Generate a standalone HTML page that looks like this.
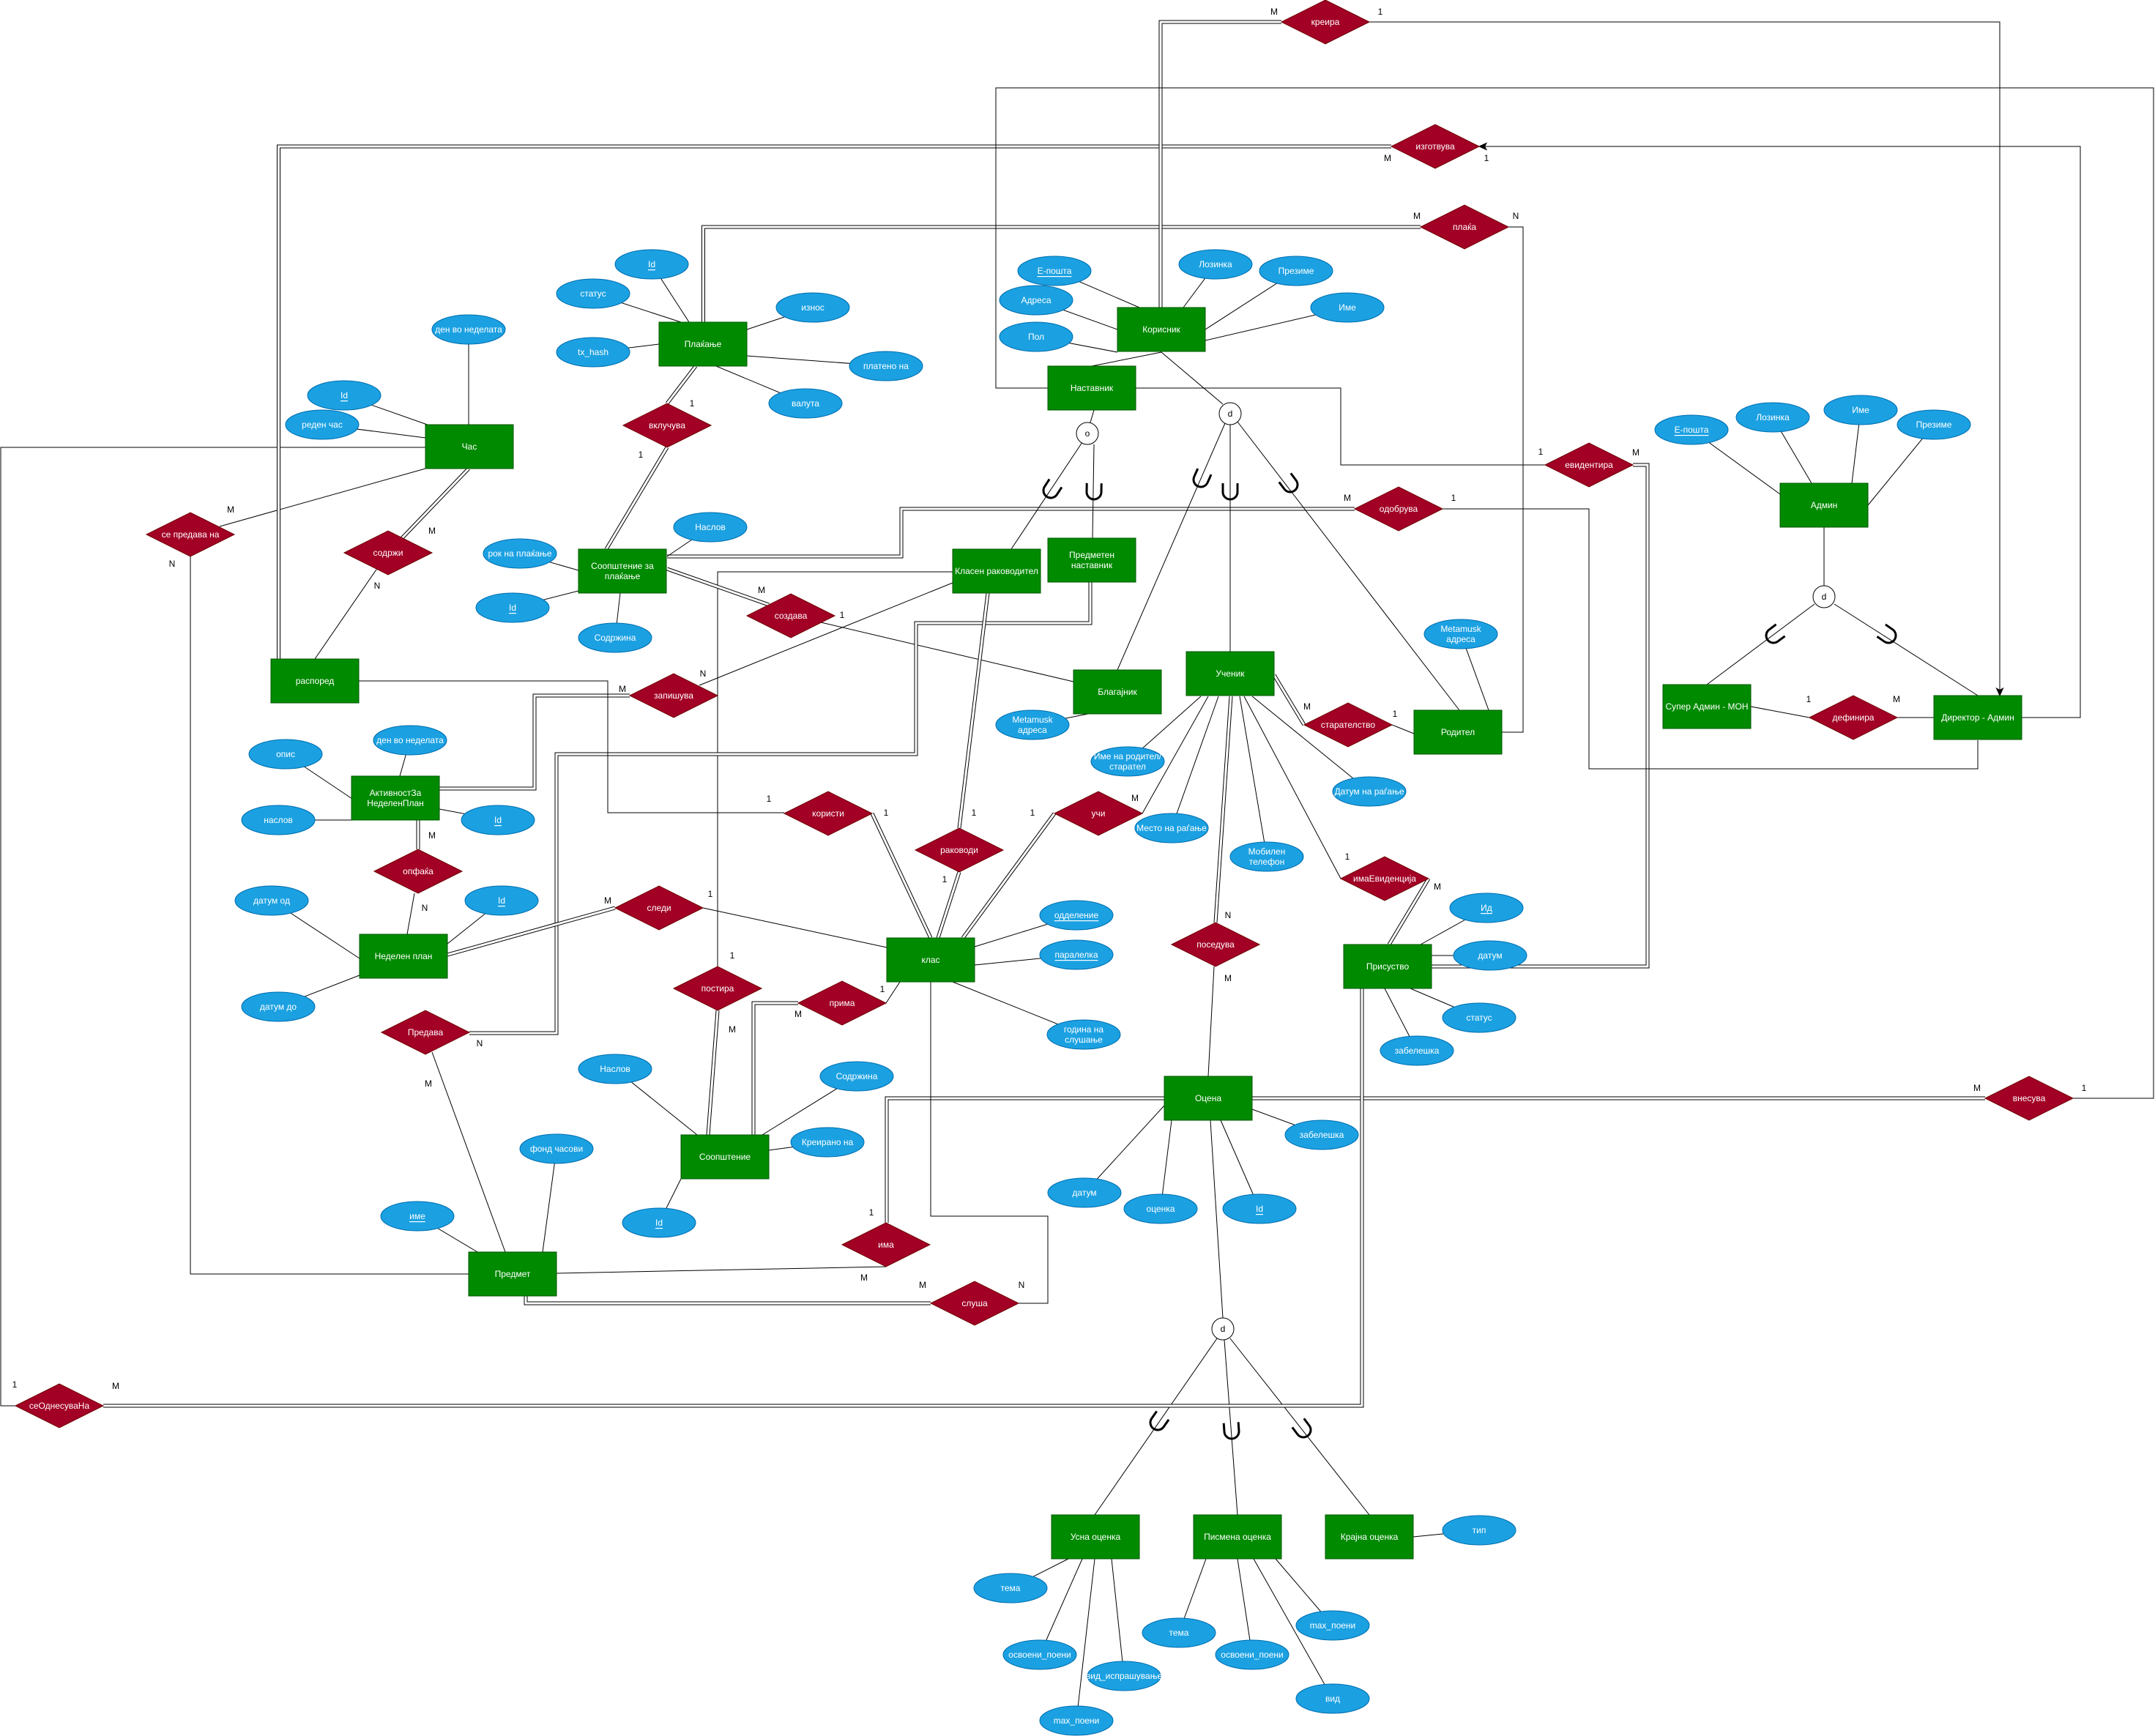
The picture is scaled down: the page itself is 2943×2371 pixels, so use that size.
<!DOCTYPE html>
<html><head><meta charset="utf-8"><style>
html,body{margin:0;padding:0;background:#fff;}
svg{display:block;}
.s{stroke:#000;stroke-width:1;fill:none;}
.d1{stroke:#000;stroke-width:5;fill:none;}
.d2{stroke:#fff;stroke-width:3;fill:none;}
.en{fill:#008a00;stroke:#005700;stroke-width:1;}
.rl{fill:#a20025;stroke:#6f0000;stroke-width:1;}
.at{fill:#1ba1e2;stroke:#006eaf;stroke-width:1;}
.ci{fill:#fff;stroke:#000;stroke-width:1;}
.u{fill:none;stroke:#000;stroke-width:3;}
text{font-family:"Liberation Sans","DejaVu Sans",sans-serif;font-size:12px;text-anchor:middle;dominant-baseline:central;}
.w{fill:#fff;}
.k{fill:#000;}
.ul{text-decoration:underline;}
</style></head><body>
<svg width="2943" height="2371" viewBox="0 0 2943 2371" xmlns="http://www.w3.org/2000/svg">
<rect x="0" y="0" width="2943" height="2371" fill="#fff"/>

<!-- ============ EDGES ============ -->
<g>
<!-- Час -->
<path class="s" d="M581,611 H1 V1920 H21"/>
<path class="s" d="M300,719 L581,640"/>
<path class="s" d="M260,760 V1740 H640"/>
<path class="s" d="M516,775 L430,900"/>
<path class="d1" d="M549,735 L640,640"/><path class="d2" d="M549,735 L640,640"/>

<!-- изготвува double -->
<path class="d1" d="M1900,200 H380.5 V900"/><path class="d2" d="M1900,200 H380.5 V900"/>
<!-- плаќа double -->
<path class="d1" d="M1940,310 H960.5 V440"/><path class="d2" d="M1940,310 H960.5 V440"/>
<path class="s" d="M2060,310 H2080 V1000 H2051"/>
<!-- креира -->
<path class="d1" d="M1750,30 H1585 V420"/><path class="d2" d="M1750,30 H1585 V420"/>
<path class="s" d="M1870,30 H2731 V942"/>
<path class="s" d="M2761,980 H2841 V200 H2028"/>
<!-- y120 line -->
<path class="s" d="M1431,530 H1360 V120 H2941 V1500 H2831"/>
<!-- Наставник -> евидентира -->
<path class="s" d="M1551,530 H1831 V635 H2110"/>
<path class="d1" d="M2230,635 H2250 V1320 H1955"/><path class="d2" d="M2230,635 H2250 V1320 H1955"/>
<!-- одобрува -->
<path class="d1" d="M911,760 H1231 V695 H1850"/><path class="d2" d="M911,760 H1231 V695 H1850"/>
<path class="s" d="M1970,695 H2170 V1050 H2701 V1011"/>
<!-- вклучува -->
<path class="d1" d="M950,500 L911,551"/><path class="d2" d="M950,500 L911,551"/>
<path class="d1" d="M911,611 L828,750"/><path class="d2" d="M911,611 L828,750"/>
<!-- постира line -->
<path class="s" d="M1301,781 H980 V1320"/>
<!-- создава -->
<path class="d1" d="M911,777 L1050,826"/><path class="d2" d="M911,777 L1050,826"/>
<path class="s" d="M1121,850 L1466,931"/>
<!-- запишува -->
<path class="d1" d="M600,1077 H730 V950 H860"/><path class="d2" d="M600,1077 H730 V950 H860"/>
<path class="s" d="M955,936 L1301,796"/>
<!-- Предметен наставник -> Предава -->
<path class="d1" d="M1489,795 V851 H1251 V1030 H760 V1411 H641"/><path class="d2" d="M1489,795 V851 H1251 V1030 H760 V1411 H641"/>
<!-- распоред -> користи -->
<path class="s" d="M490,930 H830 V1110 H1071"/>
<!-- Корисник ISA -->
<path class="s" d="M1586,481 L1491,500"/>
<path class="s" d="M1586,481 L1670,552"/>
<path class="s" d="M1494,560 L1489,577"/>
<path class="s" d="M1478,604 L1381,750"/>
<path class="s" d="M1494,607 L1492,735"/>
<path class="s" d="M1673,578 L1526,915"/>
<path class="s" d="M1680,580 V890"/>
<path class="s" d="M1690,576 L1993,970"/>
<!-- Admin ISA -->
<path class="s" d="M2491,720 V800"/>
<path class="s" d="M2478,825 L2331,935"/>
<path class="s" d="M2505,825 L2701,950"/>
<path class="s" d="M2391,965 L2471,980"/>
<path class="s" d="M2591,980 H2641"/>
<!-- старателство -->
<path class="d1" d="M1740,922 L1781,990"/><path class="d2" d="M1740,922 L1781,990"/>
<path class="s" d="M1901,990 L1931,1002"/>
<!-- учи -->
<path class="s" d="M1650,951 L1560,1111"/>
<path class="d1" d="M1440,1111 L1315,1281"/><path class="d2" d="M1440,1111 L1315,1281"/>
<!-- имаЕвиденција -->
<path class="s" d="M1699,951 L1831,1200"/>
<path class="d1" d="M1951,1200 L1897,1290"/><path class="d2" d="M1951,1200 L1897,1290"/>
<!-- поседува -->
<path class="d1" d="M1681,951 L1660,1260"/><path class="d2" d="M1681,951 L1660,1260"/>
<path class="s" d="M1658,1320 L1650,1470"/>
<!-- Оцена ISA -->
<path class="s" d="M1653,1530 L1670,1800"/>
<path class="s" d="M1662,1828 L1495,2069"/>
<path class="s" d="M1672,1830 L1690,2069"/>
<path class="s" d="M1680,1828 L1870,2069"/>
<!-- раководи -->
<path class="d1" d="M1349,810 L1310,1131"/><path class="d2" d="M1349,810 L1310,1131"/>
<path class="d1" d="M1310,1191 L1281,1281"/><path class="d2" d="M1310,1191 L1281,1281"/>
<!-- користи -->
<path class="d1" d="M1191,1111 L1271,1281"/><path class="d2" d="M1191,1111 L1271,1281"/>
<!-- следи -->
<path class="d1" d="M611,1304 L840,1240"/><path class="d2" d="M611,1304 L840,1240"/>
<path class="s" d="M960,1240 L1211,1294"/>
<!-- опфаќа -->
<path class="d1" d="M571,1120 V1160"/><path class="d2" d="M571,1120 V1160"/>
<path class="s" d="M566,1220 L556,1276"/>
<!-- постира -->
<path class="d1" d="M980,1380 L967,1550"/><path class="d2" d="M980,1380 L967,1550"/>
<!-- прима -->
<path class="s" d="M1210,1370 L1229,1341"/>
<path class="d1" d="M1090,1370 H1029 V1550"/><path class="d2" d="M1090,1370 H1029 V1550"/>
<!-- Предава -> Предмет -->
<path class="s" d="M590,1437 L690,1710"/>
<!-- внесува -->
<path class="d1" d="M2711,1500 H1211 V1670"/><path class="d2" d="M2711,1500 H1211 V1670"/>
<!-- има -->
<path class="s" d="M760,1739 L1210,1730"/>
<!-- слуша -->
<path class="s" d="M1391,1780 H1431 V1661 H1271 V1341"/>
<path class="d1" d="M1271,1780 H718 V1770"/><path class="d2" d="M1271,1780 H718 V1770"/>
<!-- сеОднесуваНа -->
<path class="d1" d="M141,1920 H1860 V1350"/><path class="d2" d="M141,1920 H1860 V1350"/>

<!-- attribute lines -->
<path class="s" d="M640,450 L640,580 M470,540 L595,584 M440,580 L581,598
M710,756 L790,779 M890,361 L941,440 M810,401 L930,440 M810,481 L900,470 M1110,420 L1020,450 M1210,500 L1020,486 M1100,551 L978,500
M970,720 L911,760 M700,830 L790,807 M840,871 L847,810
M1440,370 L1556,420 M1415,410 L1526,450 M1415,460 L1526,481 M1660,361 L1616,420 M1770,370 L1646,450 M1840,420 L1646,465
M2310,587 L2431,675 M2421,570 L2474,660 M2541,560 L2529,660 M2641,580 L2551,690
M1410,990 L1486,975 M1995,866 L2033,970
M1540,1040 L1640,951 M1600,1131 L1664,951 M1730,1170 L1693,951 M1870,1081 L1710,951
M560,1011 L546,1060 M390,1030 L481,1091 M380,1120 L481,1120 M680,1120 L600,1105
M371,1230 L491,1309 M380,1375 L491,1332 M685,1230 L611,1289
M1470,1250 L1331,1293 M1470,1304 L1331,1318 M1480,1413 L1301,1341
M2030,1240 L1940,1290 M2035,1305 L1955,1305 M2020,1390 L1926,1350 M1935,1435 L1891,1350
M840,1460 L952,1550 M1170,1470 L1041,1550 M1130,1560 L1050,1571 M900,1670 L930,1610
M760,1569 L741,1710 M570,1661 L652,1710
M1805,1550 L1710,1515 M1481,1629 L1590,1510 M1585,1651 L1600,1530 M1720,1651 L1667,1530
M2020,2090 L1930,2099
M1610,2230 L1647,2129 M1710,2260 L1690,2129 M1820,2220 L1742,2129 M1820,2320 L1712,2129
M1380,2169 L1459,2129 M1420,2260 L1478,2129 M1535,2289 L1518,2129 M1470,2350 L1495,2129"/>

<!-- arrowheads -->
<polygon points="2731,950 2726.5,940 2731,942.5 2735.5,940" fill="#000" stroke="#000" stroke-width="1"/>
<polygon points="2020,200 2030,195.5 2027.5,200 2030,204.5" fill="#000" stroke="#000" stroke-width="1"/>
</g>

<!-- U (subset) symbols -->
<g>
<path class="u" d="M-10,-12 V0 A10,10 0 0 0 10,0 V-12" transform="translate(1435,670) rotate(33)"/>
<path class="u" d="M-10,-12 V0 A10,10 0 0 0 10,0 V-12" transform="translate(1494,672) rotate(1)"/>
<path class="u" d="M-10,-12 V0 A10,10 0 0 0 10,0 V-12" transform="translate(1640,655) rotate(24)"/>
<path class="u" d="M-10,-12 V0 A10,10 0 0 0 10,0 V-12" transform="translate(1680,672) rotate(0)"/>
<path class="u" d="M-10,-12 V0 A10,10 0 0 0 10,0 V-12" transform="translate(1762,662) rotate(-37)"/>
<path class="u" d="M-10,-12 V0 A10,10 0 0 0 10,0 V-12" transform="translate(2422,868) rotate(53)"/>
<path class="u" d="M-10,-12 V0 A10,10 0 0 0 10,0 V-12" transform="translate(2579,868) rotate(-55)"/>
<path class="u" d="M-10,-12 V0 A10,10 0 0 0 10,0 V-12" transform="translate(1581,1943) rotate(35)"/>
<path class="u" d="M-10,-12 V0 A10,10 0 0 0 10,0 V-12" transform="translate(1682,1955) rotate(-4)"/>
<path class="u" d="M-10,-12 V0 A10,10 0 0 0 10,0 V-12" transform="translate(1780,1953) rotate(-37)"/>
</g>

<!-- ============ ENTITIES ============ -->
<g>
<rect class="en" x="581" y="580" width="120" height="60"/><text class="w" x="641" y="610">Час</text>
<rect class="en" x="900" y="440" width="120" height="60"/><text class="w" x="960" y="470">Плаќање</text>
<rect class="en" x="1526" y="420" width="120" height="60"/><text class="w" x="1586" y="450">Корисник</text>
<rect class="en" x="1431" y="500" width="120" height="60"/><text class="w" x="1491" y="530">Наставник</text>
<rect class="en" x="2431" y="660" width="120" height="60"/><text class="w" x="2491" y="690">Админ</text>
<rect class="en" x="790" y="750" width="120" height="60"/><text class="w" x="850" y="780"><tspan x="850" dy="-7">Соопштение за</tspan><tspan x="850" dy="14">плаќање</tspan></text>
<rect class="en" x="1301" y="750" width="120" height="60"/><text class="w" x="1361" y="780">Класен раководител</text>
<rect class="en" x="1431" y="735" width="120" height="60"/><text class="w" x="1491" y="765"><tspan x="1491" dy="-7">Предметен</tspan><tspan x="1491" dy="14">наставник</tspan></text>
<rect class="en" x="370" y="900" width="120" height="60"/><text class="w" x="430" y="930">распоред</text>
<rect class="en" x="1466" y="915" width="120" height="60"/><text class="w" x="1526" y="945">Благајник</text>
<rect class="en" x="1620" y="890" width="120" height="60"/><text class="w" x="1680" y="920">Ученик</text>
<rect class="en" x="1931" y="970" width="120" height="60"/><text class="w" x="1991" y="1000">Родител</text>
<rect class="en" x="2271" y="935" width="120" height="60"/><text class="w" x="2331" y="965">Супер Админ - МОН</text>
<rect class="en" x="2641" y="950" width="120" height="60"/><text class="w" x="2701" y="980">Директор - Админ</text>
<rect class="en" x="480" y="1060" width="120" height="60"/><text class="w" x="540" y="1090"><tspan x="540" dy="-7">АктивностЗа</tspan><tspan x="540" dy="14">НеделенПлан</tspan></text>
<rect class="en" x="491" y="1276" width="120" height="60"/><text class="w" x="551" y="1306">Неделен план</text>
<rect class="en" x="1211" y="1281" width="120" height="60"/><text class="w" x="1271" y="1311">клас</text>
<rect class="en" x="1835" y="1290" width="120" height="60"/><text class="w" x="1895" y="1320">Присуство</text>
<rect class="en" x="1590" y="1470" width="120" height="60"/><text class="w" x="1650" y="1500">Оцена</text>
<rect class="en" x="930" y="1550" width="120" height="60"/><text class="w" x="990" y="1580">Соопштение</text>
<rect class="en" x="640" y="1710" width="120" height="60"/><text class="w" x="700" y="1740">Предмет</text>
<rect class="en" x="1436" y="2069" width="120" height="60"/><text class="w" x="1496" y="2099">Усна оценка</text>
<rect class="en" x="1630" y="2069" width="120" height="60"/><text class="w" x="1690" y="2099">Писмена оценка</text>
<rect class="en" x="1810" y="2069" width="120" height="60"/><text class="w" x="1870" y="2099">Крајна оценка</text>
</g>

<!-- ============ RELATIONSHIPS ============ -->
<g>
<polygon class="rl" points="1750,30 1810,0 1870,30 1810,60"/><text class="w" x="1810" y="30">креира</text>
<polygon class="rl" points="1900,200 1960,170 2020,200 1960,230"/><text class="w" x="1960" y="200">изготвува</text>
<polygon class="rl" points="1940,310 2000,280 2060,310 2000,340"/><text class="w" x="2000" y="310">плаќа</text>
<polygon class="rl" points="851,581 911,551 971,581 911,611"/><text class="w" x="911" y="581">вклучува</text>
<polygon class="rl" points="200,730 260,700 320,730 260,760"/><text class="w" x="260" y="730">се предава на</text>
<polygon class="rl" points="470,755 530,725 590,755 530,785"/><text class="w" x="530" y="755">содржи</text>
<polygon class="rl" points="2110,635 2170,605 2230,635 2170,665"/><text class="w" x="2170" y="635">евидентира</text>
<polygon class="rl" points="1850,695 1910,665 1970,695 1910,725"/><text class="w" x="1910" y="695">одобрува</text>
<polygon class="rl" points="1020,841 1080,811 1140,841 1080,871"/><text class="w" x="1080" y="841">создава</text>
<polygon class="rl" points="860,950 920,920 980,950 920,980"/><text class="w" x="920" y="950">запишува</text>
<polygon class="rl" points="1781,990 1841,960 1901,990 1841,1020"/><text class="w" x="1841" y="990">старателство</text>
<polygon class="rl" points="2471,980 2531,950 2591,980 2531,1010"/><text class="w" x="2531" y="980">дефинира</text>
<polygon class="rl" points="1071,1111 1131,1081 1191,1111 1131,1141"/><text class="w" x="1131" y="1111">користи</text>
<polygon class="rl" points="1250,1161 1310,1131 1370,1161 1310,1191"/><text class="w" x="1310" y="1161">раководи</text>
<polygon class="rl" points="1440,1111 1500,1081 1560,1111 1500,1141"/><text class="w" x="1500" y="1111">учи</text>
<polygon class="rl" points="511,1190 571,1160 631,1190 571,1220"/><text class="w" x="571" y="1190">опфаќа</text>
<polygon class="rl" points="840,1240 900,1210 960,1240 900,1270"/><text class="w" x="900" y="1240">следи</text>
<polygon class="rl" points="1831,1200 1891,1170 1951,1200 1891,1230"/><text class="w" x="1891" y="1200">имаЕвиденција</text>
<polygon class="rl" points="1600,1290 1660,1260 1720,1290 1660,1320"/><text class="w" x="1660" y="1290">поседува</text>
<polygon class="rl" points="920,1350 980,1320 1040,1350 980,1380"/><text class="w" x="980" y="1350">постира</text>
<polygon class="rl" points="1090,1370 1150,1340 1210,1370 1150,1400"/><text class="w" x="1150" y="1370">прима</text>
<polygon class="rl" points="521,1410 581,1380 641,1410 581,1440"/><text class="w" x="581" y="1410">Предава</text>
<polygon class="rl" points="2711,1500 2771,1470 2831,1500 2771,1530"/><text class="w" x="2771" y="1500">внесува</text>
<polygon class="rl" points="1150,1700 1210,1670 1270,1700 1210,1730"/><text class="w" x="1210" y="1700">има</text>
<polygon class="rl" points="1271,1780 1331,1750 1391,1780 1331,1810"/><text class="w" x="1331" y="1780">слуша</text>
<polygon class="rl" points="21,1920 81,1890 141,1920 81,1950"/><text class="w" x="81" y="1920">сеОднесуваНа</text>
</g>

<!-- ============ ISA circles ============ -->
<g>
<circle class="ci" cx="1680" cy="565" r="15"/><text class="k" x="1680" y="565">d</text>
<circle class="ci" cx="1485" cy="592" r="15"/><text class="k" x="1485" y="592">o</text>
<circle class="ci" cx="2491" cy="815" r="15"/><text class="k" x="2491" y="815">d</text>
<circle class="ci" cx="1670" cy="1815" r="15"/><text class="k" x="1670" y="1815">d</text>
</g>

<!-- ============ ATTRIBUTES ============ -->
<g>
<ellipse class="at" cx="640" cy="450" rx="50" ry="20"/><text class="w" x="640" y="450">ден во неделата</text>
<ellipse class="at" cx="470" cy="540" rx="50" ry="20"/><text class="w ul" x="470" y="540">Id</text>
<ellipse class="at" cx="440" cy="580" rx="50" ry="20"/><text class="w" x="440" y="580">реден час</text>
<ellipse class="at" cx="710" cy="756" rx="50" ry="20"/><text class="w" x="710" y="756">рок на плаќање</text>
<ellipse class="at" cx="890" cy="361" rx="50" ry="20"/><text class="w ul" x="890" y="361">Id</text>
<ellipse class="at" cx="810" cy="401" rx="50" ry="20"/><text class="w" x="810" y="401">статус</text>
<ellipse class="at" cx="810" cy="481" rx="50" ry="20"/><text class="w" x="810" y="481">tx_hash</text>
<ellipse class="at" cx="1110" cy="420" rx="50" ry="20"/><text class="w" x="1110" y="420">износ</text>
<ellipse class="at" cx="1210" cy="500" rx="50" ry="20"/><text class="w" x="1210" y="500">платено на</text>
<ellipse class="at" cx="1100" cy="551" rx="50" ry="20"/><text class="w" x="1100" y="551">валута</text>
<ellipse class="at" cx="970" cy="720" rx="50" ry="20"/><text class="w" x="970" y="720">Наслов</text>
<ellipse class="at" cx="700" cy="830" rx="50" ry="20"/><text class="w ul" x="700" y="830">Id</text>
<ellipse class="at" cx="840" cy="871" rx="50" ry="20"/><text class="w" x="840" y="871">Содржина</text>
<ellipse class="at" cx="1440" cy="370" rx="50" ry="20"/><text class="w ul" x="1440" y="370">E-пошта</text>
<ellipse class="at" cx="1415" cy="410" rx="50" ry="20"/><text class="w" x="1415" y="410">Адреса</text>
<ellipse class="at" cx="1415" cy="460" rx="50" ry="20"/><text class="w" x="1415" y="460">Пол</text>
<ellipse class="at" cx="1660" cy="361" rx="50" ry="20"/><text class="w" x="1660" y="361">Лозинка</text>
<ellipse class="at" cx="1770" cy="370" rx="50" ry="20"/><text class="w" x="1770" y="370">Презиме</text>
<ellipse class="at" cx="1840" cy="420" rx="50" ry="20"/><text class="w" x="1840" y="420">Име</text>
<ellipse class="at" cx="2310" cy="587" rx="50" ry="20"/><text class="w ul" x="2310" y="587">E-пошта</text>
<ellipse class="at" cx="2421" cy="570" rx="50" ry="20"/><text class="w" x="2421" y="570">Лозинка</text>
<ellipse class="at" cx="2541" cy="560" rx="50" ry="20"/><text class="w" x="2541" y="560">Име</text>
<ellipse class="at" cx="2641" cy="580" rx="50" ry="20"/><text class="w" x="2641" y="580">Презиме</text>
<ellipse class="at" cx="1410" cy="990" rx="50" ry="20"/><text class="w" x="1410" y="990"><tspan x="1410" dy="-7">Metamusk</tspan><tspan x="1410" dy="14">адреса</tspan></text>
<ellipse class="at" cx="1995" cy="866" rx="50" ry="20"/><text class="w" x="1995" y="866"><tspan x="1995" dy="-7">Metamusk</tspan><tspan x="1995" dy="14">адреса</tspan></text>
<ellipse class="at" cx="1540" cy="1040" rx="50" ry="20"/><text class="w" x="1540" y="1040"><tspan x="1540" dy="-7">Име на родител/</tspan><tspan x="1540" dy="14">старател</tspan></text>
<ellipse class="at" cx="1600" cy="1131" rx="50" ry="20"/><text class="w" x="1600" y="1131">Место на раѓање</text>
<ellipse class="at" cx="1730" cy="1170" rx="50" ry="20"/><text class="w" x="1730" y="1170"><tspan x="1730" dy="-7">Мобилен</tspan><tspan x="1730" dy="14">телефон</tspan></text>
<ellipse class="at" cx="1870" cy="1081" rx="50" ry="20"/><text class="w" x="1870" y="1081">Датум на раѓање</text>
<ellipse class="at" cx="560" cy="1011" rx="50" ry="20"/><text class="w" x="560" y="1011">ден во неделата</text>
<ellipse class="at" cx="390" cy="1030" rx="50" ry="20"/><text class="w" x="390" y="1030">опис</text>
<ellipse class="at" cx="380" cy="1120" rx="50" ry="20"/><text class="w" x="380" y="1120">наслов</text>
<ellipse class="at" cx="680" cy="1120" rx="50" ry="20"/><text class="w ul" x="680" y="1120">Id</text>
<ellipse class="at" cx="371" cy="1230" rx="50" ry="20"/><text class="w" x="371" y="1230">датум од</text>
<ellipse class="at" cx="380" cy="1375" rx="50" ry="20"/><text class="w" x="380" y="1375">датум до</text>
<ellipse class="at" cx="685" cy="1230" rx="50" ry="20"/><text class="w ul" x="685" y="1230">Id</text>
<ellipse class="at" cx="1470" cy="1250" rx="50" ry="20"/><text class="w ul" x="1470" y="1250">одделение</text>
<ellipse class="at" cx="1470" cy="1304" rx="50" ry="20"/><text class="w ul" x="1470" y="1304">паралелка</text>
<ellipse class="at" cx="1480" cy="1413" rx="50" ry="20"/><text class="w" x="1480" y="1413"><tspan x="1480" dy="-7">година на</tspan><tspan x="1480" dy="14">слушање</tspan></text>
<ellipse class="at" cx="2030" cy="1240" rx="50" ry="20"/><text class="w ul" x="2030" y="1240">Ид</text>
<ellipse class="at" cx="2035" cy="1305" rx="50" ry="20"/><text class="w" x="2035" y="1305">датум</text>
<ellipse class="at" cx="2020" cy="1390" rx="50" ry="20"/><text class="w" x="2020" y="1390">статус</text>
<ellipse class="at" cx="1935" cy="1435" rx="50" ry="20"/><text class="w" x="1935" y="1435">забелешка</text>
<ellipse class="at" cx="840" cy="1460" rx="50" ry="20"/><text class="w" x="840" y="1460">Наслов</text>
<ellipse class="at" cx="1170" cy="1470" rx="50" ry="20"/><text class="w" x="1170" y="1470">Содржина</text>
<ellipse class="at" cx="1130" cy="1560" rx="50" ry="20"/><text class="w" x="1130" y="1560">Креирано на</text>
<ellipse class="at" cx="900" cy="1670" rx="50" ry="20"/><text class="w ul" x="900" y="1670">Id</text>
<ellipse class="at" cx="760" cy="1569" rx="50" ry="20"/><text class="w" x="760" y="1569">фонд часови</text>
<ellipse class="at" cx="570" cy="1661" rx="50" ry="20"/><text class="w ul" x="570" y="1661">име</text>
<ellipse class="at" cx="1805" cy="1550" rx="50" ry="20"/><text class="w" x="1805" y="1550">забелешка</text>
<ellipse class="at" cx="1481" cy="1629" rx="50" ry="20"/><text class="w" x="1481" y="1629">датум</text>
<ellipse class="at" cx="1585" cy="1651" rx="50" ry="20"/><text class="w" x="1585" y="1651">оценка</text>
<ellipse class="at" cx="1720" cy="1651" rx="50" ry="20"/><text class="w ul" x="1720" y="1651">Id</text>
<ellipse class="at" cx="2020" cy="2090" rx="50" ry="20"/><text class="w" x="2020" y="2090">тип</text>
<ellipse class="at" cx="1610" cy="2230" rx="50" ry="20"/><text class="w" x="1610" y="2230">тема</text>
<ellipse class="at" cx="1710" cy="2260" rx="50" ry="20"/><text class="w" x="1710" y="2260">освоени_поени</text>
<ellipse class="at" cx="1820" cy="2220" rx="50" ry="20"/><text class="w" x="1820" y="2220">max_поени</text>
<ellipse class="at" cx="1820" cy="2320" rx="50" ry="20"/><text class="w" x="1820" y="2320">вид</text>
<ellipse class="at" cx="1380" cy="2169" rx="50" ry="20"/><text class="w" x="1380" y="2169">тема</text>
<ellipse class="at" cx="1420" cy="2260" rx="50" ry="20"/><text class="w" x="1420" y="2260">освоени_поени</text>
<ellipse class="at" cx="1535" cy="2289" rx="50" ry="20"/><text class="w" x="1535" y="2289">вид_испрашување</text>
<ellipse class="at" cx="1470" cy="2350" rx="50" ry="20"/><text class="w" x="1470" y="2350">max_поени</text>
</g>

<!-- ============ CARDINALITY LABELS ============ -->
<g class="k">
<text class="k" x="1740" y="16">M</text><text class="k" x="1885" y="16">1</text>
<text class="k" x="1895" y="216">M</text><text class="k" x="2030" y="216">1</text>
<text class="k" x="1935" y="295">M</text><text class="k" x="2070" y="295">N</text>
<text class="k" x="2104" y="617">1</text><text class="k" x="2234" y="618">M</text>
<text class="k" x="1840" y="680">M</text><text class="k" x="1985" y="680">1</text>
<text class="k" x="945" y="551">1</text><text class="k" x="875" y="621">1</text>
<text class="k" x="315" y="696">M</text><text class="k" x="235" y="770">N</text>
<text class="k" x="590" y="725">M</text><text class="k" x="515" y="800">N</text>
<text class="k" x="1040" y="806">M</text><text class="k" x="1150" y="840">1</text>
<text class="k" x="850" y="941">M</text><text class="k" x="960" y="920">N</text>
<text class="k" x="1785" y="965">M</text><text class="k" x="1905" y="975">1</text>
<text class="k" x="2470" y="955">1</text><text class="k" x="2590" y="955">M</text>
<text class="k" x="1050" y="1091">1</text><text class="k" x="1210" y="1110">1</text>
<text class="k" x="1330" y="1110">1</text><text class="k" x="1290" y="1201">1</text>
<text class="k" x="1410" y="1110">1</text><text class="k" x="1550" y="1090">M</text>
<text class="k" x="590" y="1141">M</text><text class="k" x="580" y="1240">N</text>
<text class="k" x="830" y="1230">M</text><text class="k" x="970" y="1221">1</text>
<text class="k" x="1000" y="1305">1</text><text class="k" x="1000" y="1406">M</text>
<text class="k" x="1205" y="1351">1</text><text class="k" x="1090" y="1385">M</text>
<text class="k" x="655" y="1425">N</text><text class="k" x="585" y="1480">M</text>
<text class="k" x="1840" y="1170">1</text><text class="k" x="1963" y="1211">M</text>
<text class="k" x="1677" y="1250">N</text><text class="k" x="1677" y="1336">M</text>
<text class="k" x="2700" y="1486">M</text><text class="k" x="2846" y="1486">1</text>
<text class="k" x="1190" y="1656">1</text><text class="k" x="1180" y="1745">M</text>
<text class="k" x="1260" y="1755">M</text><text class="k" x="1395" y="1755">N</text>
<text class="k" x="20" y="1891">1</text><text class="k" x="158" y="1893">M</text>
</g>
</svg>
</body></html>
